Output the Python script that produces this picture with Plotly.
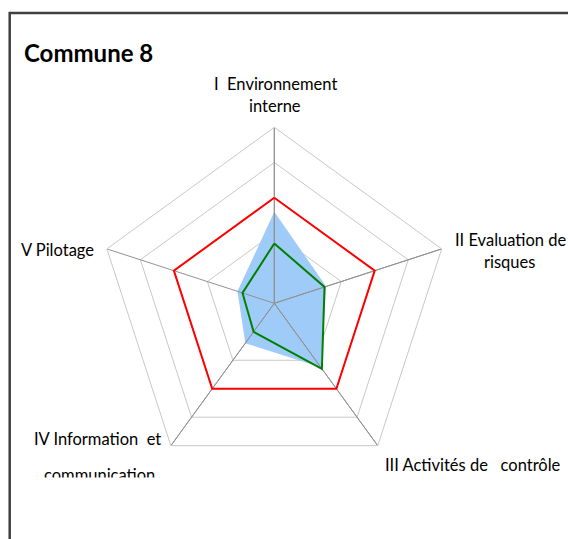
import plotly.graph_objects as go

W, H = 568, 539

categories = ["I Environnement interne", "II Evaluation de risques", "III Activités de contrôle",
              "IV Information et communication", "V Pilotage"]
objectif = [3, 3, 3, 3, 3]
commune_8 = [1.7, 1.5, 2.3, 1.0, 0.95]
moyenne = [2.6, 1.55, 2.25, 1.4, 1.1]
grid_levels = [1, 2, 3, 4]
r_max = 5

# label text, pixel position (center x, center y)
labels = [
    ("I  Environnement", 275, 84),
    ("interne", 275, 106),
    ("II Evaluation de", 511, 240),
    ("risques", 509, 262),
    ("III Activités de   contrôle", 473, 465),
    ("IV Information  et", 97, 439),
    ("communication", 99, 475),
    ("V Pilotage", 57, 250),
]


def closed(vals):
    return list(vals) + [vals[0]]


def px(x, y):
    return x / W, 1 - y / H


theta = closed(categories)

fig = go.Figure()
fig.add_trace(go.Scatterpolar(r=closed(moyenne), theta=theta, mode='lines', fill='toself',
                              fillcolor='#9ECBF8', line=dict(width=0, color='#9ECBF8'),
                              hoverinfo='skip'))

# spokes drawn over the filled area, like excel does
spoke_r, spoke_t = [], []
for c in categories:
    spoke_r += [0, r_max]
    spoke_t += [c, c]
fig.add_trace(go.Scatterpolar(r=spoke_r, theta=spoke_t, mode='lines',
                              line=dict(width=1, color='#929292'), hoverinfo='skip'))

fig.add_trace(go.Scatterpolar(r=closed(commune_8), theta=theta, mode='lines',
                              line=dict(width=2, color='#008000')))
fig.add_trace(go.Scatterpolar(r=closed(objectif), theta=theta, mode='lines',
                              line=dict(width=2, color='#FF0000')))

cx, cy, R = 274.3, 303.3, 176
fig.update_layout(
    width=W, height=H,
    margin=dict(l=0, r=0, t=0, b=0),
    paper_bgcolor='white',
    showlegend=False,
    font=dict(family='Lato', size=16.5, color='black'),
    polar=dict(
        domain=dict(x=[(cx - R) / W, (cx + R) / W], y=[1 - (cy + R) / H, 1 - (cy - R) / H]),
        gridshape='linear',
        bgcolor='white',
        angularaxis=dict(rotation=90, direction='clockwise', showticklabels=False, ticks='',
                         showgrid=False, showline=True, linecolor='#c8c8c8', linewidth=1),
        radialaxis=dict(range=[0, r_max], tickvals=grid_levels, showticklabels=False, ticks='',
                        showline=False, gridcolor='#c8c8c8', gridwidth=1),
    ),
)

ann = []
x, y = px(22, 52)
ann.append(dict(text='<b>Commune 8</b>', x=x, y=y, xref='paper', yref='paper', xanchor='left',
                yanchor='middle', showarrow=False, font=dict(size=24, family='Lato')))
for t, lx, ly in labels:
    x, y = px(lx, ly)
    ann.append(dict(text=t, x=x, y=y, xref='paper', yref='paper', xanchor='center',
                    yanchor='middle', showarrow=False))
# excel clips the last line of the lower left label
x, y = px(99, 477)
ann.append(dict(text=' ', x=x, y=y, xref='paper', yref='paper', xanchor='center', yanchor='top',
                showarrow=False, width=160, height=24, bgcolor='white'))
fig.update_layout(annotations=ann)

fig.add_shape(type='rect', xref='paper', yref='paper', x0=9.7 / W, x1=1.05, y0=-0.05, y1=1 - 13 / H,
              line=dict(color='#404040', width=2.5))

fig.write_html("out.html", config={'displayModeBar': False},
               post_script="document.body.style.margin='0px';")
